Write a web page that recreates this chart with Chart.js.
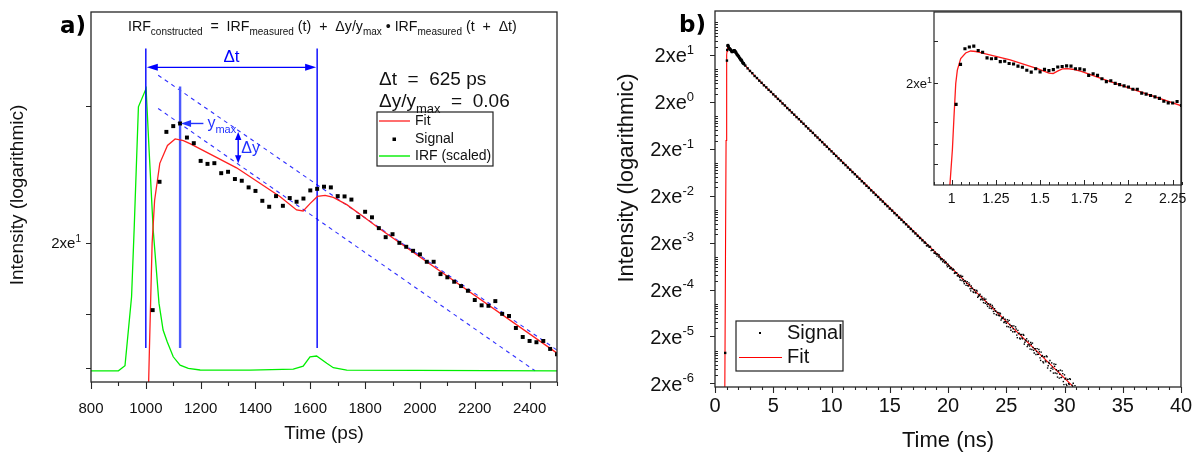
<!DOCTYPE html>
<html>
<head>
<meta charset="utf-8">
<script src="https://cdn.jsdelivr.net/npm/chart.js@4.4.1/dist/chart.umd.min.js"></script>
<style>
  html, body { margin: 0; padding: 0; background: #fff; }
  #wrap { position: relative; width: 1196px; height: 454px; overflow: hidden; background: #fff; }
  #wrap canvas { position: absolute; }
</style>
</head>
<body>
<div id="wrap">
  <canvas id="panelA" width="598" height="454" style="left:0;top:0"></canvas>
  <canvas id="panelB" width="598" height="454" style="left:598px;top:0"></canvas>
  <canvas id="inset" width="316" height="230" style="left:880px;top:0"></canvas>
</div>
<script>
// ---------------- measured decay (time in ns, intensity in counts) ----------------
const signalTimeEarly = [1.025,1.05,1.075,1.1,1.125,1.15,1.175,1.2,1.225,1.25,1.275,1.3,1.325,1.35,1.375,1.4,1.425,1.45,1.475,1.5,
  1.525,1.55,1.575,1.6,1.625,1.65,1.675,1.7,1.725,1.75,1.775,1.8,1.825,1.85,1.875,1.9,1.925,1.95,1.975,2.0,
  2.025,2.05,2.075,2.1,2.125,2.15,2.175,2.2,2.225,2.25,2.275,2.3,2.325,2.35,2.375,2.4,2.425,2.45,2.475,2.5];
const signalEarly = [15.21,25.69,31.50,32.25,32.60,30.78,30.08,27.98,27.64,27.72,26.61,26.76,25.98,25.80,25.11,24.75,23.77,23.20,24.23,23.29,
  24.04,23.68,23.99,24.80,24.96,25.18,25.11,24.23,24.20,23.89,22.24,22.73,22.22,21.26,20.49,20.74,20.02,19.70,19.38,19.10,
  18.53,18.53,17.62,17.39,17.08,16.78,16.46,15.85,15.51,15.48,15.78,14.98,14.85,14.14,13.63,13.41,13.34,13.41,12.98,12.70];

const signalTimeMid = [2.6,2.8,3.0,3.2,3.4,3.6,3.8,4.0,4.2,4.4,4.6,4.8,5.0,5.2,5.4,5.6,5.8,6.0,6.2,6.4,6.6,6.8,7.0,7.2,7.4,7.6,7.8,8.0,
  8.2,8.4,8.6,8.8,9.0,9.2,9.4,9.6,9.8,10.0,10.2,10.4,10.6,10.8,11.0,11.2,11.4,11.6,11.8,12.0,12.2,12.4,12.6,12.8,13.0,13.2,13.4,13.6,13.8,14.0,
  14.2,14.4,14.6,14.8,15.0,15.2,15.4,15.6,15.8,16.0,16.2,16.4,16.6,16.8,17.0,17.2,17.4,17.6,17.8,18.0];
const signalMid = [11.9,10.4,9.15,8.2,7.15,6.45,5.68,5.12,4.52,4.10,3.62,3.28,2.90,2.62,2.32,2.10,1.85,1.68,
  1.48,1.34,1.19,1.07,0.950,0.858,0.760,0.685,0.605,0.545,0.484,0.437,0.386,0.349,0.309,0.278,0.246,0.222,0.197,0.177,
  0.157,0.141,0.125,0.113,0.0998,0.0900,0.0798,0.0718,0.0638,0.0575,0.0510,0.0460,0.0407,0.0368,0.0325,0.0294,0.0260,0.0234,0.0208,0.0188,
  0.0166,0.0150,0.0133,0.0120,0.0106,0.00962,0.00851,0.00770,0.00680,0.00615,0.00545,0.00492,0.00436,0.00392,0.00349,0.00314,0.00279,0.00251,0.00224,0.00201];

const signalTimeTail = [18.1,18.2,18.3,18.4,18.5,18.6,18.7,18.8,18.9,19.0,19.1,19.2,19.3,19.4,19.5,19.6,19.7,19.8,19.9,20.0,
  20.1,20.2,20.3,20.4,20.5,20.6,20.7,20.8,20.9,21.0,21.1,21.2,21.3,21.4,21.5,21.6,21.7,21.8,21.9,22.0,
  22.1,22.2,22.3,22.4,22.5,22.6,22.7,22.8,22.9,23.0,23.1,23.2,23.3,23.4,23.5,23.6,23.7,23.8,23.9,24.0,
  24.1,24.2,24.3,24.4,24.5,24.6,24.7,24.8,24.9,25.0,25.1,25.2,25.3,25.4,25.5,25.6,25.7,25.8,25.9,26.0,
  26.1,26.2,26.3,26.4,26.5,26.6,26.7,26.8,26.9,27.0,27.1,27.2,27.3,27.4,27.5,27.6,27.7,27.8,27.9,28.0,
  28.1,28.2,28.3,28.4,28.5,28.6,28.7,28.8,28.9,29.0,29.1,29.2,29.3,29.4,29.5,29.6,29.7,29.8,29.9,30.0,
  30.1,30.2,30.3,30.4,30.5,30.6,30.7,30.8,30.9];
const signalTail = [1.94e-3,1.70e-3,1.76e-3,1.59e-3,1.62e-3,1.39e-3,1.37e-3,1.20e-3,1.27e-3,1.13e-3,
  1.15e-3,9.88e-4,9.87e-4,8.66e-4,8.95e-4,8.24e-4,7.58e-4,7.90e-4,6.64e-4,6.92e-4,
  6.37e-4,5.58e-4,5.77e-4,5.20e-4,5.31e-4,4.56e-4,4.49e-4,3.94e-4,4.16e-4,3.62e-4,
  3.99e-4,3.11e-4,3.28e-4,2.67e-4,3.02e-4,2.70e-4,2.42e-4,2.77e-4,2.07e-4,2.38e-4,
  2.13e-4,1.73e-4,1.96e-4,1.68e-4,1.85e-4,1.44e-4,1.48e-4,1.21e-4,1.42e-4,1.19e-4,
  1.31e-4,1.02e-4,1.08e-4,8.75e-5,9.90e-5,8.86e-5,7.93e-5,9.10e-5,6.81e-5,7.81e-5,
  6.99e-5,5.68e-5,6.43e-5,5.52e-5,6.07e-5,4.74e-5,4.87e-5,3.95e-5,4.66e-5,3.82e-5,
  4.53e-5,3.21e-5,3.58e-5,2.70e-5,3.34e-5,2.91e-5,2.53e-5,3.20e-5,2.13e-5,2.69e-5,
  2.34e-5,1.76e-5,2.18e-5,1.78e-5,2.12e-5,1.50e-5,1.61e-5,1.21e-5,1.59e-5,1.25e-5,
  1.49e-5,1.05e-5,1.17e-5,8.84e-6,1.09e-5,9.53e-6,8.29e-6,1.05e-5,6.97e-6,9.25e-6,
  7.83e-6,5.47e-6,7.41e-6,5.77e-6,7.40e-6,4.75e-6,5.30e-6,3.70e-6,5.45e-6,4.02e-6,
  5.15e-6,3.31e-6,3.90e-6,2.72e-6,3.69e-6,3.12e-6,2.65e-6,3.69e-6,2.18e-6,3.03e-6,
  2.57e-6,1.79e-6,2.43e-6,1.89e-6,2.43e-6,1.56e-6,1.74e-6,1.21e-6,1.79e-6];

// channels between the ones above in the noisy tail
const signalTimeTail2 = [18.15,18.25,18.35,18.45,18.55,18.65,18.75,18.85,18.95,19.05,19.15,19.25,19.35,19.45,19.55,19.65,19.75,19.85,19.95,20.05,
  20.15,20.25,20.35,20.45,20.55,20.65,20.75,20.85,20.95,21.05,21.15,21.25,21.35,21.45,21.55,21.65,21.75,21.85,21.95,22.05,
  22.15,22.25,22.35,22.45,22.55,22.65,22.75,22.85,22.95,23.05,23.15,23.25,23.35,23.45,23.55,23.65,23.75,23.85,23.95,24.05,
  24.15,24.25,24.35,24.45,24.55,24.65,24.75,24.85,24.95,25.05,25.15,25.25,25.35,25.45,25.55,25.65,25.75,25.85,25.95,26.05,
  26.15,26.25,26.35,26.45,26.55,26.65,26.75,26.85,26.95,27.05,27.15,27.25,27.35,27.45,27.55,27.65,27.75,27.85,27.95,28.05,
  28.15,28.25,28.35,28.45,28.55,28.65,28.75,28.85,28.95,29.05,29.15,29.25,29.35,29.45,29.55,29.65,29.75,29.85,29.95,30.05,
  30.15,30.25,30.35,30.45,30.55,30.65,30.75,30.85];
const signalTail2 = [1.73e-3,1.79e-3,1.62e-3,1.68e-3,1.35e-3,1.41e-3,1.40e-3,1.19e-3,1.17e-3,1.03e-3,
  1.10e-3,1.09e-3,9.11e-4,9.10e-4,7.85e-4,8.52e-4,7.35e-4,7.49e-4,6.11e-4,6.40e-4,
  5.67e-4,5.88e-4,5.31e-4,5.51e-4,4.41e-4,4.62e-4,4.58e-4,3.91e-4,3.84e-4,3.19e-4,
  3.72e-4,3.81e-4,2.93e-4,3.05e-4,2.45e-4,2.95e-4,2.38e-4,2.56e-4,1.87e-4,2.11e-4,
  1.78e-4,1.98e-4,1.73e-4,1.92e-4,1.36e-4,1.54e-4,1.58e-4,1.25e-4,1.26e-4,1.05e-4,
  1.22e-4,1.25e-4,9.59e-5,1.00e-4,8.05e-5,9.69e-5,7.80e-5,8.39e-5,6.13e-5,6.93e-5,
  5.85e-5,6.50e-5,5.67e-5,6.30e-5,4.46e-5,5.04e-5,5.16e-5,4.09e-5,4.13e-5,3.25e-5,
  4.14e-5,4.40e-5,3.08e-5,3.35e-5,2.51e-5,3.36e-5,2.52e-5,2.87e-5,1.88e-5,2.29e-5,
  1.84e-5,2.19e-5,1.85e-5,2.20e-5,1.37e-5,1.67e-5,1.78e-5,1.31e-5,1.35e-5,1.07e-5,
  1.36e-5,1.44e-5,1.01e-5,1.10e-5,8.25e-6,1.10e-5,8.28e-6,9.41e-6,6.16e-6,7.55e-6,
  5.79e-6,7.39e-6,6.02e-6,7.68e-6,4.24e-6,5.57e-6,6.12e-6,4.16e-6,4.44e-6,3.30e-6,
  4.61e-6,5.07e-6,3.25e-6,3.67e-6,2.58e-6,3.82e-6,2.68e-6,3.22e-6,1.88e-6,2.48e-6,
  1.90e-6,2.42e-6,1.97e-6,2.52e-6,1.44e-6,1.83e-6,2.01e-6,1.37e-6];

const signalTimePre = [0.875];
const signalPre = [8.9e-6];

// ---------------- reconvolution fit (ns, counts) ----------------
const fitTime = [0.84,0.9,0.95,0.98,0.99,1.004,1.013,1.023,1.032,1.051,1.079,1.107,1.137,1.163,1.331,1.489,
  1.55,1.574,1.599,1.626,1.654,1.684,1.733,1.793,1.848,2.5,3.0,3.5,4.0,30.7];
const fitValue = [1e-6,1e-3,0.3,2.6,5.3,8.4,12.9,20.0,23.8,27.7,29.8,30.6,30.4,30.0,27.2,24.2,
  22.9,22.8,23.5,24.2,24.3,24.1,23.4,22.3,21.3,12.76,9.2,6.8,5.1,1.75e-6];

// ---------------- instrument response, scaled (ps, counts) ----------------
const irfTime = [800,900,924,948,958,973,1001,1012,1027,1048,1063,1078,1100,1125,1155,1198,1380,1538,1574,1599,1623,1660,1684,1733,2500];
const irfValue = [11.87,11.87,12.12,16.06,21.53,34.9,37.6,29.2,21.08,15.65,14.02,13.37,12.57,12.15,11.99,11.91,11.90,11.95,12.10,12.57,12.61,12.24,12.02,11.90,11.87];

// ---------------- construction guides in panel a (ps, counts) ----------------
const guideUpper = [[1045, 39.7], [2500, 12.92]];
const guideLower = [[1045, 34.66], [2420, 11.87]];
const markerTimes = [1000, 1125, 1625];
const markerTop = [44.3, 37.9, 44.3];
const markerBottom = 13.03;
const deltaTLevel = 41.0;
const deltaYTime = 1337;
const deltaYRange = [31.5, 27.7];
const yMaxArrowFrom = 1210;

// ---------------- axes ----------------
const psTicks = [800,1000,1200,1400,1600,1800,2000,2200,2400];
const psMinorTicks = [900,1100,1300,1500,1700,1900,2100,2300,2500];
const panelAIntensityTicks = [35, 20, 15, 12];
const nsTicks = [0,5,10,15,20,25,30,35,40];
const decadeExponents = [1,0,-1,-2,-3,-4,-5,-6];
const insetTimeTicks = [1,1.25,1.5,1.75,2,2.25];
const insetIntensityTicks = [35, 20, 12, 9, 7];

// ---------------- helpers ----------------
const SANS = '"Liberation Sans", Arial, Helvetica, sans-serif';
const BOLD = '"DejaVu Sans", "Liberation Sans", sans-serif';
const AXIS = '#262626';

const pts = (xs, ys, k) => xs.map((t, i) => ({ x: t * (k || 1), y: ys[i] }));
const pairs = (arr) => arr.map(([x, y]) => ({ x, y }));

function tickMarks(ctx, chart, axis, values, len, inward) {
  const a = chart.chartArea, s = chart.scales[axis];
  ctx.beginPath();
  values.forEach(v => {
    const p = s.getPixelForValue(v);
    if (axis === 'x') {
      if (p < a.left - 0.6 || p > a.right + 0.6) return;
      const xp = Math.round(p) + 0.5;
      ctx.moveTo(xp, a.bottom); ctx.lineTo(xp, inward ? a.bottom - len : a.bottom + len);
    } else {
      if (p < a.top - 0.6 || p > a.bottom + 0.6) return;
      const yp = Math.round(p) + 0.5;
      ctx.moveTo(a.left, yp); ctx.lineTo(inward ? a.left + len : a.left - len, yp);
    }
  });
  ctx.stroke();
}

// text made of normal / subscript / superscript runs, vertically centred on yMid
function rich(ctx, parts, x, yMid, size, small, color, align) {
  const w = parts.map(([t, k]) => { ctx.font = (k === 'n' ? size : small) + 'px ' + SANS; return ctx.measureText(t).width; });
  const total = w.reduce((p, c) => p + c, 0);
  let cx = align === 'right' ? x - total : align === 'center' ? x - total / 2 : x;
  const base = yMid + size * 0.36;
  ctx.fillStyle = color; ctx.textAlign = 'left'; ctx.textBaseline = 'alphabetic';
  parts.forEach(([t, k], i) => {
    ctx.font = (k === 'n' ? size : small) + 'px ' + SANS;
    const dy = k === 'sub' ? size * 0.3 : k === 'sup' ? -size * 0.42 : 0;
    ctx.fillText(t, cx, base + dy);
    cx += w[i];
  });
}

function text(ctx, str, x, y, size, color, align, font) {
  ctx.font = size + 'px ' + (font || SANS);
  ctx.fillStyle = color; ctx.textAlign = align || 'center'; ctx.textBaseline = 'middle';
  ctx.fillText(str, x, y);
}

function head(ctx, x, y, dx, dy, len, half) {
  const n = Math.hypot(dx, dy); dx /= n; dy /= n;
  ctx.beginPath();
  ctx.moveTo(x, y);
  ctx.lineTo(x - dx * len - dy * half, y - dy * len + dx * half);
  ctx.lineTo(x - dx * len + dy * half, y - dy * len - dx * half);
  ctx.closePath(); ctx.fill();
}

const base = {
  responsive: false, animation: false, devicePixelRatio: 1, events: [],
  plugins: { legend: { display: false }, tooltip: { enabled: false } }
};
const lineSet = (data, color, width, order, extra) => Object.assign({
  data, showLine: true, borderColor: color, borderWidth: width, pointRadius: 0, tension: 0, fill: false, order
}, extra || {});

// ---------------- panel a ----------------
const panelAPlugin = {
  id: 'panelA',
  afterDraw(chart) {
    const { ctx, chartArea: a, scales: { x, y } } = chart;
    ctx.save();
    const blue = '#0000ff';
    ctx.fillStyle = blue; ctx.strokeStyle = blue;

    // Δt double arrow between the two IRF copies
    const yT = y.getPixelForValue(deltaTLevel);
    const x0 = x.getPixelForValue(markerTimes[0]), x2 = x.getPixelForValue(markerTimes[2]);
    ctx.lineWidth = 1.4;
    ctx.beginPath(); ctx.moveTo(x0 + 6, yT); ctx.lineTo(x2 - 6, yT); ctx.stroke();
    head(ctx, x0 + 1, yT, -1, 0, 11, 3.5);
    head(ctx, x2 - 1, yT, 1, 0, 11, 3.5);
    text(ctx, '\u0394t', (x0 + x2) / 2, yT - 10, 17, blue);

    // y_max pointer
    const yM = y.getPixelForValue(signalEarly[4]);
    const xa = x.getPixelForValue(yMaxArrowFrom), xb = x.getPixelForValue(markerTimes[1]);
    ctx.fillStyle = '#2233ff'; ctx.strokeStyle = '#2233ff';
    ctx.beginPath(); ctx.moveTo(xa, yM); ctx.lineTo(xb + 6, yM); ctx.stroke();
    head(ctx, xb + 1, yM, -1, 0, 10, 3.5);
    rich(ctx, [['y', 'n'], ['max', 'sub']], xa + 4, yM - 1, 16, 11, '#2233ff', 'left');

    // Δy between the dashed guides
    const xd = x.getPixelForValue(deltaYTime);
    const ya = y.getPixelForValue(deltaYRange[0]), yb = y.getPixelForValue(deltaYRange[1]);
    ctx.fillStyle = blue; ctx.strokeStyle = blue;
    ctx.beginPath(); ctx.moveTo(xd, ya + 6); ctx.lineTo(xd, yb - 6); ctx.stroke();
    head(ctx, xd, ya, 0, -1, 8, 3.2);
    head(ctx, xd, yb, 0, 1, 8, 3.2);
    text(ctx, '\u0394y', xd + 3, (ya + yb) / 2 + 1, 16, '#2233ff', 'left');

    // frame and ticks
    ctx.strokeStyle = AXIS; ctx.lineWidth = 1.3;
    ctx.strokeRect(a.left, a.top, a.right - a.left, a.bottom - a.top);
    ctx.lineWidth = 1.1;
    tickMarks(ctx, chart, 'x', psTicks, 7, false);
    tickMarks(ctx, chart, 'x', psMinorTicks, 4, false);
    tickMarks(ctx, chart, 'y', panelAIntensityTicks, 5, false);

    psTicks.forEach(v => text(ctx, String(v), x.getPixelForValue(v), a.bottom + 27, 15, '#111'));
    rich(ctx, [['2xe', 'n'], ['1', 'sup']], a.left - 10, y.getPixelForValue(20), 15, 10, '#111', 'right');

    text(ctx, 'Time (ps)', (a.left + a.right) / 2, 434, 19, '#111');
    ctx.save();
    ctx.translate(18, 195); ctx.rotate(-Math.PI / 2);
    text(ctx, 'Intensity (logarithmic)', 0, 0, 19, '#111');
    ctx.restore();

    ctx.font = 'bold 23px ' + BOLD; ctx.fillStyle = '#000'; ctx.textAlign = 'right'; ctx.textBaseline = 'middle';
    ctx.fillText('a)', 86, 27);

    // construction formula
    rich(ctx, [['IRF', 'n'], ['constructed', 'sub'], ['  =  IRF', 'n'], ['measured', 'sub'], [' (t)  +  \u0394y/y', 'n'], ['max', 'sub'],
      [' \u2022 IRF', 'n'], ['measured', 'sub'], [' (t  +  \u0394t)', 'n']], 128, 26, 14.2, 10, '#111', 'left');

    rich(ctx, [['\u0394t  =  625 ps', 'n']], 379, 78, 19, 13, '#111', 'left');
    rich(ctx, [['\u0394y/y', 'n'], ['max', 'sub'], ['  =  0.06', 'n']], 379, 100, 19, 13, '#111', 'left');

    // legend
    ctx.strokeStyle = '#222'; ctx.lineWidth = 1.2;
    ctx.strokeRect(377, 112, 116, 54);
    ctx.lineWidth = 1.4;
    ctx.strokeStyle = '#ff3030'; ctx.beginPath(); ctx.moveTo(379, 121); ctx.lineTo(410, 121); ctx.stroke();
    ctx.fillStyle = '#000'; ctx.fillRect(392.5, 137.5, 3.5, 3.5);
    ctx.strokeStyle = '#00ee00'; ctx.beginPath(); ctx.moveTo(379, 156); ctx.lineTo(410, 156); ctx.stroke();
    text(ctx, 'Fit', 415, 121, 14, '#111', 'left');
    text(ctx, 'Signal', 415, 139, 14, '#111', 'left');
    text(ctx, 'IRF (scaled)', 415, 156, 14, '#111', 'left');
    ctx.restore();
  }
};

new Chart(document.getElementById('panelA'), {
  type: 'scatter',
  data: {
    datasets: [
      { label: 'Signal', data: pts(signalTimeEarly, signalEarly, 1000), pointStyle: 'rect', pointRadius: 2.8,
        backgroundColor: '#000', borderWidth: 0, order: 0 },
      lineSet(pts(fitTime, fitValue, 1000), '#ff2020', 1.3, 1, { label: 'Fit' }),
      lineSet([{ x: markerTimes[0], y: markerTop[0] }, { x: markerTimes[0], y: markerBottom }], '#0000ff', 1.4, 2),
      lineSet([{ x: markerTimes[1], y: markerTop[1] }, { x: markerTimes[1], y: markerBottom }], '#4b59ff', 2.4, 2),
      lineSet([{ x: markerTimes[2], y: markerTop[2] }, { x: markerTimes[2], y: markerBottom }], '#0000ff', 1.4, 2),
      lineSet(pts(irfTime, irfValue), '#00ee00', 1.3, 3, { label: 'IRF (scaled)' }),
      lineSet(pairs(guideUpper), '#3030ff', 1.1, 4, { borderDash: [4, 4] }),
      lineSet(pairs(guideLower), '#3030ff', 1.1, 4, { borderDash: [4, 4] })
    ]
  },
  options: Object.assign({}, base, {
    layout: { padding: { left: 91, top: 12, right: 41, bottom: 72 } },
    scales: {
      x: { type: 'linear', min: 800, max: 2500, display: false },
      y: { type: 'logarithmic', min: 11.34, max: 51.4, display: false }
    }
  }),
  plugins: [panelAPlugin]
});

// ---------------- panel b ----------------
const panelBPlugin = {
  id: 'panelB',
  afterDraw(chart) {
    const { ctx, chartArea: a, scales: { x, y } } = chart;
    ctx.save();
    ctx.strokeStyle = AXIS; ctx.lineWidth = 1.3;
    ctx.strokeRect(a.left, a.top, a.right - a.left, a.bottom - a.top);
    ctx.lineWidth = 1.1;
    const minorX = [];
    for (let t = 0; t <= 40; t++) if (t % 5) minorX.push(t);
    tickMarks(ctx, chart, 'x', nsTicks, 6, false);
    tickMarks(ctx, chart, 'x', minorX, 3, false);
    const majorY = decadeExponents.map(k => 2 * Math.pow(10, k));
    const minorY = [];
    for (let k = -7; k <= 2; k++) [1, 3, 4, 5, 6, 7, 8, 9].forEach(m => minorY.push(m * Math.pow(10, k)));
    tickMarks(ctx, chart, 'y', majorY, 5, false);
    tickMarks(ctx, chart, 'y', minorY, 3, true);

    nsTicks.forEach(v => text(ctx, String(v), x.getPixelForValue(v), a.bottom + 19, 20, '#111'));
    decadeExponents.forEach((k, i) =>
      rich(ctx, [['2xe', 'n'], [String(k), 'sup']], 96, y.getPixelForValue(majorY[i]), 20, 13, '#111', 'right'));

    text(ctx, 'Time (ns)', (a.left + a.right) / 2, 441, 22, '#111');
    ctx.save();
    ctx.translate(29, 178); ctx.rotate(-Math.PI / 2);
    text(ctx, 'Intensity (logarithmic)', 0, 0, 22, '#111');
    ctx.restore();

    ctx.font = 'bold 23px ' + BOLD; ctx.fillStyle = '#000'; ctx.textAlign = 'right'; ctx.textBaseline = 'middle';
    ctx.fillText('b)', 108, 26);

    // legend
    ctx.strokeStyle = '#222'; ctx.lineWidth = 1.2;
    ctx.strokeRect(138, 321, 107, 50);
    ctx.fillStyle = '#000'; ctx.fillRect(161, 332, 2, 2);
    ctx.strokeStyle = '#ff0000'; ctx.lineWidth = 1.2;
    ctx.beginPath(); ctx.moveTo(141, 357.5); ctx.lineTo(184, 357.5); ctx.stroke();
    text(ctx, 'Signal', 189, 333, 20, '#111', 'left');
    text(ctx, 'Fit', 189, 357, 20, '#111', 'left');
    ctx.restore();
  }
};

const denseSignal = pts(signalTimePre, signalPre).concat(pts(signalTimeEarly, signalEarly), pts(signalTimeMid, signalMid));
const tailSignal = pts(signalTimeTail, signalTail).concat(pts(signalTimeTail2, signalTail2));

new Chart(document.getElementById('panelB'), {
  type: 'scatter',
  data: {
    datasets: [
      { label: 'Signal', data: denseSignal, pointStyle: 'rect', pointRadius: 1.7, backgroundColor: '#000', borderWidth: 0, order: 0 },
      { label: 'Signal (tail)', data: tailSignal, pointStyle: 'rect', pointRadius: 1.0, backgroundColor: '#000', borderWidth: 0, order: 0 },
      lineSet(pts(fitTime, fitValue), '#ff0000', 1.1, 1, { label: 'Fit' })
    ]
  },
  options: Object.assign({}, base, {
    layout: { padding: { left: 117, top: 11, right: 15, bottom: 67 } },
    scales: {
      x: { type: 'linear', min: 0, max: 40, display: false },
      y: { type: 'logarithmic', min: 1.67e-6, max: 173.6, display: false }
    }
  }),
  plugins: [panelBPlugin]
});

// ---------------- inset: first nanoseconds ----------------
const insetPlugin = {
  id: 'inset',
  afterDraw(chart) {
    const { ctx, chartArea: a, scales: { x, y } } = chart;
    ctx.save();
    ctx.strokeStyle = AXIS; ctx.lineWidth = 1.2;
    ctx.strokeRect(a.left, a.top, a.right - a.left, a.bottom - a.top);
    ctx.lineWidth = 1;
    const minor = [];
    for (let i = 18; i <= 46; i++) if (i % 5) minor.push(i / 20);
    tickMarks(ctx, chart, 'x', insetTimeTicks, 5, true);
    tickMarks(ctx, chart, 'x', minor, 3, true);
    tickMarks(ctx, chart, 'y', insetIntensityTicks, 4, true);
    insetTimeTicks.forEach(v => text(ctx, String(v), x.getPixelForValue(v), a.bottom + 14, 14, '#111'));
    rich(ctx, [['2xe', 'n'], ['1', 'sup']], a.left - 2, y.getPixelForValue(20), 13, 9, '#111', 'right');
    ctx.restore();
  }
};

new Chart(document.getElementById('inset'), {
  type: 'scatter',
  data: {
    datasets: [
      { label: 'Signal', data: pts(signalTimeEarly, signalEarly), pointStyle: 'rect', pointRadius: 2.2, backgroundColor: '#000', borderWidth: 0, order: 0 },
      lineSet(pts(fitTime, fitValue), '#ff1a1a', 1.3, 1, { label: 'Fit' })
    ]
  },
  options: Object.assign({}, base, {
    layout: { padding: { left: 54, top: 12, right: 14.5, bottom: 45 } },
    scales: {
      x: { type: 'linear', min: 0.9, max: 2.3, display: false },
      y: { type: 'logarithmic', min: 5.29, max: 51.0, display: false }
    }
  }),
  plugins: [insetPlugin]
});
</script>
</body>
</html>
